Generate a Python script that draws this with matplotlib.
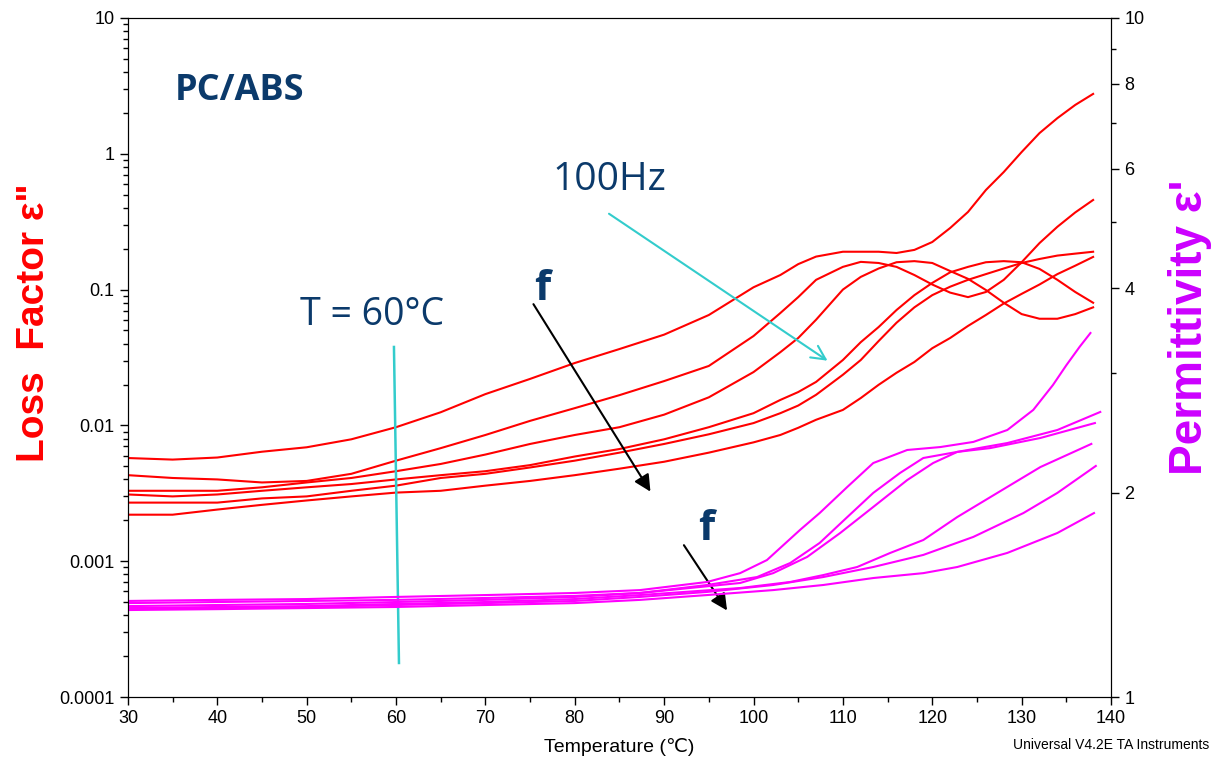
import numpy as np
import matplotlib
matplotlib.use("Agg")
import matplotlib.pyplot as plt
from matplotlib.ticker import FixedLocator, NullFormatter

plt.rcParams['font.family'] = ['Liberation Sans', 'DejaVu Sans']

# Temperature grid for the loss factor curves (deg C)
T_red = [30, 35, 40, 45, 50, 55, 60, 65, 70, 75, 80, 85, 90, 95, 100, 103, 105, 107,
         110, 112, 114, 116, 118, 120, 122, 124, 126, 128, 130, 132, 134, 136, 138]

# Loss factor e'' (left axis), low to high frequency
loss_1 = [0.00575, 0.0056, 0.0058, 0.0064, 0.0069, 0.0079, 0.0097, 0.0125, 0.017, 0.022,
          0.0288, 0.0365, 0.0466, 0.065, 0.104, 0.128, 0.154, 0.175, 0.19, 0.19, 0.19,
          0.186, 0.196, 0.224, 0.284, 0.373, 0.541, 0.734, 1.03, 1.42, 1.83, 2.29, 2.76]
loss_2 = [0.0043, 0.0041, 0.0040, 0.0038, 0.0039, 0.0044, 0.0055, 0.0068, 0.0085, 0.0108,
          0.0134, 0.0167, 0.0212, 0.0274, 0.0455, 0.0672, 0.088, 0.118, 0.147, 0.160, 0.157,
          0.147, 0.128, 0.109, 0.095, 0.088, 0.096, 0.118, 0.159, 0.22, 0.29, 0.37, 0.457]
loss_3 = [0.0033, 0.0033, 0.0033, 0.0035, 0.0038, 0.0041, 0.0046, 0.0052, 0.0061, 0.0073,
          0.0085, 0.0097, 0.012, 0.0161, 0.0247, 0.0346, 0.044, 0.060, 0.100, 0.124, 0.143,
          0.159, 0.162, 0.157, 0.137, 0.12, 0.0993, 0.080, 0.066, 0.061, 0.061, 0.066, 0.074]
loss_4 = [0.0031, 0.0030, 0.0031, 0.0033, 0.0035, 0.0037, 0.0040, 0.0043, 0.0046, 0.0051,
          0.0059, 0.0067, 0.0079, 0.0097, 0.0123, 0.0154, 0.0176, 0.0209, 0.0303, 0.041,
          0.053, 0.0707, 0.091, 0.112, 0.134, 0.147, 0.159, 0.162, 0.159, 0.142, 0.118,
          0.096, 0.080]
loss_5 = [0.0027, 0.0027, 0.0027, 0.0029, 0.0030, 0.0033, 0.0036, 0.0041, 0.0044, 0.0049,
          0.0055, 0.0063, 0.0073, 0.0086, 0.0104, 0.0123, 0.0140, 0.0168, 0.0236, 0.0303,
          0.0418, 0.057, 0.074, 0.091, 0.105, 0.118, 0.130, 0.143, 0.157, 0.168, 0.178,
          0.184, 0.19]
loss_6 = [0.0022, 0.0022, 0.0024, 0.0026, 0.0028, 0.0030, 0.0032, 0.0033, 0.0036, 0.0039,
          0.0043, 0.0048, 0.0054, 0.0063, 0.0075, 0.0085, 0.0096, 0.011, 0.013, 0.0159,
          0.0199, 0.0244, 0.0293, 0.037, 0.044, 0.054, 0.065, 0.079, 0.093, 0.109, 0.130,
          0.150, 0.174]

# Permittivity e' (right axis)
T_p1 = [30, 40, 50, 60, 70, 80, 87.3, 94.8, 98.5, 101.5, 105.2, 107.4, 110.5, 113.4, 117.2,
        120.9, 124.6, 128.4, 131.3, 133.5, 135.0, 136.5, 137.7]
perm_1 = [1.385, 1.390, 1.394, 1.404, 1.413, 1.423, 1.437, 1.477, 1.522, 1.591, 1.762, 1.866,
          2.039, 2.211, 2.311, 2.334, 2.375, 2.473, 2.647, 2.880, 3.080, 3.280, 3.436]
T_p2 = [30, 40, 50, 60, 70, 80, 87.3, 94.8, 100.4, 104.1, 107.4, 110.5, 113.4, 116.4, 119.0,
        122.8, 128.4, 134.0, 138.8]
perm_2 = [1.375, 1.380, 1.385, 1.390, 1.399, 1.409, 1.423, 1.462, 1.502, 1.575, 1.686, 1.841,
          1.998, 2.138, 2.249, 2.296, 2.366, 2.473, 2.629]
T_p3 = [30, 40, 50, 60, 70, 80, 87.3, 98.5, 102.2, 106.0, 109.7, 113.4, 117.2, 120.1, 122.8,
        126.5, 132.1, 138.2]
perm_3 = [1.361, 1.366, 1.371, 1.380, 1.390, 1.404, 1.423, 1.472, 1.522, 1.608, 1.744, 1.905,
          2.087, 2.211, 2.296, 2.326, 2.407, 2.532]
T_p4 = [30, 40, 50, 60, 70, 80, 87.3, 98.5, 104.1, 107.8, 111.6, 115.3, 119.0, 122.8, 128.4,
        132.1, 137.8]
perm_4 = [1.352, 1.357, 1.361, 1.371, 1.380, 1.394, 1.413, 1.447, 1.477, 1.512, 1.554, 1.630,
          1.703, 1.841, 2.039, 2.181, 2.359]
T_p5 = [30, 40, 50, 60, 70, 80, 87.3, 94.8, 102.2, 107.8, 113.4, 119.0, 124.6, 130.2, 134.0,
        138.3]
perm_5 = [1.347, 1.352, 1.357, 1.366, 1.375, 1.385, 1.404, 1.428, 1.462, 1.502, 1.554, 1.619,
          1.721, 1.866, 1.998, 2.189]
T_p6 = [30, 40, 50, 60, 70, 80, 87.3, 94.8, 102.2, 107.8, 113.4, 119.0, 122.8, 128.4, 134.0,
        138.1]
perm_6 = [1.343, 1.347, 1.352, 1.357, 1.366, 1.375, 1.390, 1.413, 1.437, 1.462, 1.497, 1.522,
          1.554, 1.630, 1.744, 1.866]

left_ticks = [0.0001, 0.001, 0.01, 0.1, 1, 10]
left_labels = ['0.0001', '0.001', '0.01', '0.1', '1', '10']
right_ticks = [1, 2, 4, 6, 8, 10]
right_labels = ['1', '2', '4', '6', '8', '10']

navy = '#0B3A6B'
cyan = '#33CCCC'

fig = plt.figure(figsize=(12.15, 7.62), dpi=100)
ax = fig.add_axes([0.1053, 0.0853, 0.8091, 0.8911])
ax2 = ax.twinx()

for vals in [loss_1, loss_2, loss_3, loss_4, loss_5, loss_6]:
    ax.plot(T_red, vals, color='#FF0000', lw=1.5)

for tt, vals in [(T_p1, perm_1), (T_p2, perm_2), (T_p3, perm_3),
                 (T_p4, perm_4), (T_p5, perm_5), (T_p6, perm_6)]:
    ax2.plot(tt, vals, color='#FF00FF', lw=1.5)

ax.set_xlim(30, 140)
ax.set_yscale('log')
ax.set_ylim(0.0001, 10)
ax.yaxis.set_major_locator(FixedLocator(left_ticks))
ax.set_yticklabels(left_labels)
minor = [m * 10.0 ** e for e in range(-4, 1) for m in range(2, 10)]
ax.yaxis.set_minor_locator(FixedLocator(minor))
ax.yaxis.set_minor_formatter(NullFormatter())
ax.set_xticks(np.arange(30, 141, 10))
ax.set_xticks(np.arange(35, 140, 10), minor=True)

ax2.set_yscale('log')
ax2.set_ylim(1, 10)
ax2.yaxis.set_major_locator(FixedLocator(right_ticks))
ax2.set_yticklabels(right_labels)
ax2.yaxis.set_minor_locator(FixedLocator([3, 5, 7, 9]))
ax2.yaxis.set_minor_formatter(NullFormatter())

for a in (ax, ax2):
    a.tick_params(which='major', direction='out', length=6, width=1, labelsize=13)
    a.tick_params(which='minor', direction='out', length=3.5, width=1)
ax.spines['top'].set_color('#555555')

ax.set_xlabel('Temperature (℃)', fontsize=14, labelpad=8)
ax.set_ylabel('Loss  Factor ε"', fontsize=28, color='#FF0000', fontweight='bold')
ax.yaxis.set_label_coords(-0.077, 0.552)
ax2.set_ylabel("Permittivity ε'", fontsize=33, color='#CC00FF', fontweight='bold',
               rotation=90)
ax2.yaxis.set_label_coords(1.058, 0.545)

fig.text(0.995, 0.013, 'Universal V4.2E TA Instruments', ha='right', va='bottom', fontsize=10)

# annotations
tf = ['Open Sans', 'DejaVu Sans']
ax.text(0.048, 0.879, 'PC/ABS', transform=ax.transAxes, color=navy, fontsize=26,
        fontweight='bold', family=tf)
ax.text(0.432, 0.747, '100Hz', transform=ax.transAxes, color=navy, fontsize=28, family=tf)
ax.text(0.175, 0.548, 'T = 60°C', transform=ax.transAxes, color=navy, fontsize=27, family=tf)
ax.text(0.413, 0.585, 'f', transform=ax.transAxes, color=navy, fontsize=30,
        fontweight='bold', family=tf)
ax.text(0.580, 0.231, 'f', transform=ax.transAxes, color=navy, fontsize=30,
        fontweight='bold', family=tf)

ax.annotate('', xy=(0.533, 0.299), xytext=(0.411, 0.582), xycoords='axes fraction',
            arrowprops=dict(arrowstyle='-|>', color='black', lw=1.5, mutation_scale=25))
ax.annotate('', xy=(0.611, 0.124), xytext=(0.564, 0.227), xycoords='axes fraction',
            arrowprops=dict(arrowstyle='-|>', color='black', lw=1.5, mutation_scale=25))
ax.annotate('', xy=(0.714, 0.493), xytext=(0.487, 0.714), xycoords='axes fraction',
            arrowprops=dict(arrowstyle='->', color=cyan, lw=1.5, mutation_scale=25))
ax.plot([0.2706, 0.2757], [0.5155, 0.0501], transform=ax.transAxes, color=cyan, lw=1.8)

fig.savefig('out.png', dpi=100)
